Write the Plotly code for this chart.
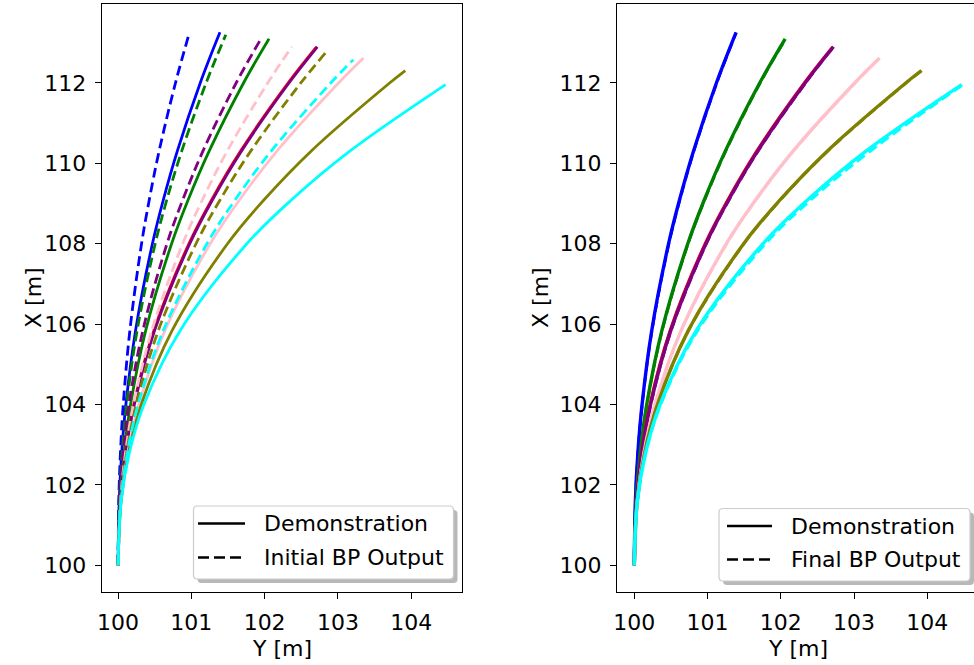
import plotly.graph_objects as go

# ---------------- data ----------------
x_grid = [100.0, 101.6, 102.8, 104.0, 105.85, 108.0, 109.07, 110.31, 112.0]
x_grid_short = [100.0, 101.6, 102.8, 104.0, 105.85, 108.0, 109.07, 110.31]

# Demonstrations (solid): Y [m] values at x_grid, plus (X, Y) end point
demo_blue_y = [100, 100.015, 100.049, 100.106, 100.239, 100.468, 100.614, 100.809, 101.121]
demo_blue_end = (113.26, 101.39)
demo_green_y = [100, 100.025, 100.081, 100.170, 100.378, 100.730, 100.951, 101.244, 101.712]
demo_green_end = (113.10, 102.06)
demo_red_y = [100, 100.028, 100.096, 100.210, 100.486, 100.962, 101.265, 101.668, 102.316]
demo_red_end = (112.90, 102.705)
demo_purple_y = [100, 100.031, 100.104, 100.222, 100.500, 100.978, 101.281, 101.685, 102.332]
demo_purple_end = (112.90, 102.72)
demo_pink_y = [100, 100.040, 100.132, 100.283, 100.641, 101.257, 101.648, 102.170, 103.009]
demo_pink_end = (112.62, 103.35)
demo_olive_y = [100, 100.041, 100.142, 100.316, 100.740, 101.493, 101.980, 102.637, 103.706]
demo_olive_end = (112.31, 103.92)
demo_cyan_y = [100, 100.042, 100.154, 100.352, 100.850, 101.757, 102.353, 103.167]
demo_cyan_end = (111.96, 104.47)

# Initial BP output (dashed, left panel)
init_blue_y = [100, 100.009, 100.032, 100.070, 100.161, 100.320, 100.423, 100.560, 100.783]
init_blue_end = (113.23, 100.97)
init_green_y = [100, 100.016, 100.054, 100.116, 100.260, 100.506, 100.661, 100.869, 101.201]
init_green_end = (113.20, 101.47)
init_purple_y = [100, 100.020, 100.069, 100.148, 100.339, 100.667, 100.878, 101.159, 101.611]
init_purple_end = (113.10, 101.95)
init_pink_y = [100, 100.032, 100.101, 100.210, 100.461, 100.881, 101.144, 101.490, 102.042]
init_pink_end = (112.90, 102.37)
init_olive_y = [100, 100.036, 100.117, 100.248, 100.551, 101.063, 101.385, 101.812, 102.493]
init_olive_end = (112.79, 102.85)
init_cyan_y = [100, 100.038, 100.127, 100.273, 100.619, 101.212, 101.589, 102.092, 102.902]
init_cyan_end = (112.58, 103.21)

# Final BP output (dashed, right panel)
final_blue_y = [100, 100.016, 100.050, 100.108, 100.242, 100.472, 100.619, 100.814, 101.126]
final_blue_end = (113.25, 101.39)
final_green_y = [100, 100.026, 100.083, 100.173, 100.382, 100.735, 100.957, 101.250, 101.718]
final_green_end = (113.08, 102.06)
final_purple_y = [100, 100.032, 100.106, 100.226, 100.505, 100.984, 101.288, 101.692, 102.339]
final_purple_end = (112.90, 102.72)
final_pink_y = [100, 100.040, 100.133, 100.285, 100.644, 101.261, 101.652, 102.175, 103.014]
final_pink_end = (112.61, 103.34)
final_olive_y = [100, 100.041, 100.143, 100.318, 100.744, 101.498, 101.986, 102.644, 103.713]
final_olive_end = (112.31, 103.93)
final_cyan_y = [100, 100.042, 100.159, 100.362, 100.870, 101.792, 102.398, 103.227]
final_cyan_end = (112.00, 104.52)

x_ticks = [100, 101, 102, 103, 104]
y_ticks = [100, 102, 104, 106, 108, 110, 112]

COLORS = {"blue": "#0000ff", "green": "#008000", "red": "#ff0000", "purple": "#800080",
          "pink": "#ffc0cb", "olive": "#808000", "cyan": "#00ffff"}

# ---------------- figure ----------------
W, H = 974, 665
FONT = "DejaVu Sans"
FS = 22
fig = go.Figure()


def curve(xs, ys, end, color, dashed, xa, ya, width):
    X = list(xs) + [end[0]]
    Y = list(ys) + [end[1]]
    fig.add_trace(go.Scatter(
        x=Y, y=X, mode="lines", xaxis=xa, yaxis=ya, showlegend=False,
        line=dict(color=COLORS[color], width=width, shape="spline", smoothing=1.0,
                  dash="10px,5px" if dashed else "solid"),
        hoverinfo="skip"))


left_pairs = [
    ("blue", x_grid, demo_blue_y, demo_blue_end, x_grid, init_blue_y, init_blue_end),
    ("green", x_grid, demo_green_y, demo_green_end, x_grid, init_green_y, init_green_end),
    ("red", x_grid, demo_red_y, demo_red_end, None, None, None),
    ("purple", x_grid, demo_purple_y, demo_purple_end, x_grid, init_purple_y, init_purple_end),
    ("pink", x_grid, demo_pink_y, demo_pink_end, x_grid, init_pink_y, init_pink_end),
    ("olive", x_grid, demo_olive_y, demo_olive_end, x_grid, init_olive_y, init_olive_end),
    ("cyan", x_grid_short, demo_cyan_y, demo_cyan_end, x_grid, init_cyan_y, init_cyan_end),
]
for color, xs, dy, dend, xi, iy, iend in left_pairs:
    curve(xs, dy, dend, color, False, "x", "y", 2.2 if color == "red" else 2.8)
    if iy is not None:
        curve(xi, iy, iend, color, True, "x", "y", 2.8)

right_pairs = [
    ("blue", x_grid, demo_blue_y, demo_blue_end, final_blue_y, final_blue_end),
    ("green", x_grid, demo_green_y, demo_green_end, final_green_y, final_green_end),
    ("red", x_grid, demo_red_y, demo_red_end, None, None),
    ("purple", x_grid, demo_purple_y, demo_purple_end, final_purple_y, final_purple_end),
    ("pink", x_grid, demo_pink_y, demo_pink_end, final_pink_y, final_pink_end),
    ("olive", x_grid, demo_olive_y, demo_olive_end, final_olive_y, final_olive_end),
    ("cyan", x_grid_short, demo_cyan_y, demo_cyan_end, final_cyan_y, final_cyan_end),
]
for color, xs, dy, dend, fy, fend in right_pairs:
    curve(xs, dy, dend, color, False, "x2", "y2", 2.4 if color == "red" else 3.4)
    if fy is not None:
        curve(xs, fy, fend, color, True, "x2", "y2", 2.8)


def px(x):
    return x / W


def py(y):
    return 1 - y / H


# plot-area geometry (pixels)
L1, R1 = 101.7, 461.7
L2 = 617.0
TOP, BOT = 4.0, 592.0

axis_common = dict(showgrid=False, zeroline=False, showline=True, linecolor="black",
                   linewidth=1.3, ticks="outside", ticklen=6, tickwidth=1.3,
                   tickcolor="black", tickfont=dict(family=FONT, size=FS, color="black"),
                   ticklabelstandoff=4, automargin=False)

fig.update_layout(
    width=W, height=H,
    margin=dict(l=0, r=0, t=0, b=0, pad=0),
    paper_bgcolor="white", plot_bgcolor="white",
    showlegend=False,
    xaxis=dict(axis_common, domain=[px(L1), px(R1)], range=[99.776, 104.69],
               tickvals=x_ticks, mirror=True, anchor="y"),
    yaxis=dict(axis_common, domain=[py(BOT), py(TOP)], range=[99.335, 113.965],
               tickvals=y_ticks, mirror=True, anchor="x"),
    xaxis2=dict(axis_common, domain=[px(L2), 1.0], range=[99.764, 104.638],
                tickvals=x_ticks, mirror=True, anchor="y2"),
    yaxis2=dict(axis_common, domain=[py(BOT), py(TOP)], range=[99.335, 113.965],
                tickvals=y_ticks, mirror=False, anchor="x2"),
)

annotations = []
shapes = []


def text(x, y, s, angle=0, xanchor="center"):
    annotations.append(dict(x=px(x), y=py(y), xref="paper", yref="paper", text=s,
                            showarrow=False, textangle=angle, xanchor=xanchor,
                            yanchor="middle",
                            font=dict(family=FONT, size=FS, color="black")))


text(281.7, 648, "Y [m]")
text(797.5, 648, "Y [m]")
text(33, 298, "X [m]", angle=-90)
text(540, 298, "X [m]", angle=-90)


def rounded_rect(x0, y0, x1, y1, r):
    pts = [f"M {px(x0 + r)},{py(y0)}",
           f"L {px(x1 - r)},{py(y0)}",
           f"Q {px(x1)},{py(y0)} {px(x1)},{py(y0 + r)}",
           f"L {px(x1)},{py(y1 - r)}",
           f"Q {px(x1)},{py(y1)} {px(x1 - r)},{py(y1)}",
           f"L {px(x0 + r)},{py(y1)}",
           f"Q {px(x0)},{py(y1)} {px(x0)},{py(y1 - r)}",
           f"L {px(x0)},{py(y0 + r)}",
           f"Q {px(x0)},{py(y0)} {px(x0 + r)},{py(y0)}",
           "Z"]
    return " ".join(pts)


def legend(x0, y0, x1, y1, row1, row2, sx0, sx1, tx, label2):
    shapes.append(dict(type="path", xref="paper", yref="paper",
                       path=rounded_rect(x0 + 4, y0 + 4, x1 + 4, y1 + 4, 4),
                       fillcolor="rgba(0,0,0,0.28)", line=dict(width=0), layer="above"))
    shapes.append(dict(type="path", xref="paper", yref="paper",
                       path=rounded_rect(x0, y0, x1, y1, 4),
                       fillcolor="white", line=dict(color="#cccccc", width=1.2),
                       layer="above"))
    shapes.append(dict(type="line", xref="paper", yref="paper",
                       x0=px(sx0), x1=px(sx1), y0=py(row1), y1=py(row1),
                       line=dict(color="black", width=2.7), layer="above"))
    shapes.append(dict(type="line", xref="paper", yref="paper",
                       x0=px(sx0), x1=px(sx1), y0=py(row2), y1=py(row2),
                       line=dict(color="black", width=2.7, dash="11px,5px"),
                       layer="above"))
    text(tx, row1, "Demonstration", xanchor="left")
    text(tx, row2, label2, xanchor="left")


legend(193.5, 506, 453.5, 579, 523.5, 557.5, 198, 245, 262, "Initial BP Output")
legend(719, 508.5, 970, 581, 526, 559.5, 727, 772, 789, "Final BP Output")

fig.update_layout(annotations=annotations, shapes=shapes)
fig.write_html("out.html", config={"displayModeBar": False},
               post_script="document.body.style.margin='0px';document.body.style.padding='0px';")
